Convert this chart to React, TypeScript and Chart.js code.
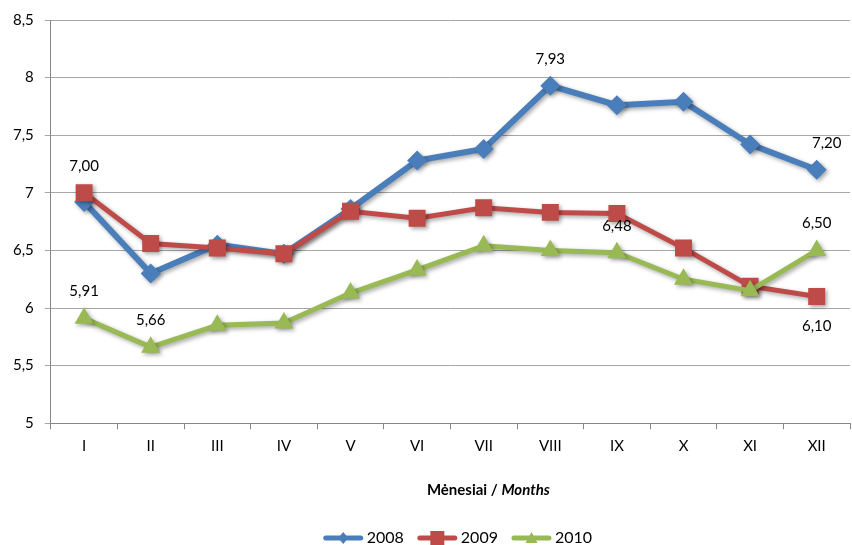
import React, { useEffect, useRef } from "react";
import { Chart, registerables } from "chart.js";

Chart.register(...registerables);

const months = ["I", "II", "III", "IV", "V", "VI", "VII", "VIII", "IX", "X", "XI", "XII"];
const series2008 = [6.92, 6.30, 6.55, 6.47, 6.86, 7.28, 7.38, 7.93, 7.76, 7.79, 7.42, 7.20];
const series2009 = [7.00, 6.56, 6.52, 6.47, 6.84, 6.78, 6.87, 6.83, 6.82, 6.52, 6.19, 6.10];
const series2010 = [5.91, 5.66, 5.85, 5.87, 6.13, 6.33, 6.54, 6.50, 6.48, 6.25, 6.15, 6.50];
const seriesNames = ["2008", "2009", "2010"];
const yTicks = [5, 5.5, 6, 6.5, 7, 7.5, 8, 8.5];
// value labels: [dataset index, point index, placement]
const valueLabels: [number, number, "above" | "below"][] = [
  [0, 7, "above"],
  [0, 11, "above"],
  [1, 0, "above"],
  [1, 11, "below"],
  [2, 0, "above"],
  [2, 1, "above"],
  [2, 8, "above"],
  [2, 11, "above"],
];

const COLORS = ["#4a7ebb", "#be4b48", "#98b954"];
const STYLES = ["rectRot", "rect", "triangle"];
const FONT = "Lato, 'Open Sans', sans-serif";

const fmt = (v: number, d = 0) => (d ? v.toFixed(d) : String(v)).replace(".", ",");

function drawMarker(ctx: CanvasRenderingContext2D, style: string, x: number, y: number) {
  ctx.beginPath();
  if (style === "rectRot") {
    ctx.moveTo(x, y - 6); ctx.lineTo(x + 5, y); ctx.lineTo(x, y + 6); ctx.lineTo(x - 5, y);
  } else if (style === "rect") {
    ctx.rect(x - 7, y - 7, 14, 14);
  } else {
    ctx.moveTo(x, y - 6); ctx.lineTo(x + 6, y + 5); ctx.lineTo(x - 6, y + 5);
  }
  ctx.closePath();
  ctx.fill();
}

const shadowPlugin = {
  id: "shadow",
  beforeDatasetDraw(chart: any) {
    const ctx = chart.ctx;
    ctx.save();
    ctx.shadowColor = "rgba(0,0,0,0.35)";
    ctx.shadowBlur = 4;
    ctx.shadowOffsetX = 2;
    ctx.shadowOffsetY = 2;
  },
  afterDatasetDraw(chart: any) {
    chart.ctx.restore();
  },
};

const textPlugin = {
  id: "texts",
  afterDatasetsDraw(chart: any) {
    const ctx = chart.ctx;
    ctx.save();
    ctx.fillStyle = "#000";
    ctx.font = `15px ${FONT}`;
    ctx.textAlign = "center";
    ctx.textBaseline = "middle";
    valueLabels.forEach(([di, pi, place]) => {
      const pt = chart.getDatasetMeta(di).data[pi];
      const v = chart.data.datasets[di].data[pi] as number;
      const dx = di === 0 && pi === 11 ? 10 : 0;
      const dy = place === "above" ? -27 : 30;
      ctx.fillText(fmt(v, 2), pt.x + dx, pt.y + dy);
    });
    // x axis title with mixed styles
    const a = chart.chartArea;
    const y = 490;
    const part1 = "Mėnesiai / ";
    const part2 = "Months";
    ctx.font = `bold 15px ${FONT}`;
    const w1 = ctx.measureText(part1).width;
    ctx.font = `bold italic 15px ${FONT}`;
    const w2 = ctx.measureText(part2).width;
    const cx = (a.left + a.right) / 2 + 38;
    const x0 = cx - (w1 + w2) / 2;
    ctx.textAlign = "left";
    ctx.font = `bold 15px ${FONT}`;
    ctx.fillText(part1, x0, y);
    ctx.font = `bold italic 15px ${FONT}`;
    ctx.fillText(part2, x0 + w1, y);

    // legend
    const ly = 538;
    const lineW = 41;
    const gapText = 3;
    const gapItem = 13;
    ctx.font = `16px ${FONT}`;
    const widths = seriesNames.map((n) => lineW + gapText + ctx.measureText(n).width);
    const total = widths.reduce((s, w) => s + w, 0) + gapItem * (seriesNames.length - 1);
    let lx = (a.left + a.right) / 2 + 7 - total / 2;
    seriesNames.forEach((n, i) => {
      ctx.strokeStyle = COLORS[i];
      ctx.fillStyle = COLORS[i];
      ctx.lineWidth = 5;
      ctx.lineCap = "round";
      ctx.beginPath();
      ctx.moveTo(lx + 3, ly);
      ctx.lineTo(lx + lineW - 3, ly);
      ctx.stroke();
      drawMarker(ctx, STYLES[i], lx + lineW / 2, ly);
      ctx.fillStyle = "#000";
      ctx.fillText(n, lx + lineW + gapText, ly);
      lx += widths[i] + gapItem;
    });
    ctx.restore();
  },
};

export default function App() {
  const ref = useRef<HTMLCanvasElement>(null);
  useEffect(() => {
    const all = [series2008, series2009, series2010];
    const chart = new Chart(ref.current!, {
      type: "line",
      data: {
        labels: months,
        datasets: all.map((d, i) => ({
          label: seriesNames[i],
          data: d,
          borderColor: COLORS[i],
          backgroundColor: COLORS[i],
          borderWidth: i === 0 ? 6 : 5,
          pointStyle: STYLES[i] as any,
          pointRadius: i === 0 ? 10 : i === 1 ? 12 : 11,
          pointBorderWidth: 0,
          tension: 0,
          order: 3 - i,
        })),
      },
      options: {
        animation: false,
        responsive: false,
        layout: { autoPadding: false, padding: { top: 18, right: 2, bottom: 35, left: 2 } },
        plugins: {
          tooltip: { enabled: false },
          legend: { display: false },
        },
        scales: {
          x: {
            offset: true,
            afterFit: (scale: any) => {
              scale.paddingLeft = 0;
              scale.paddingRight = 0;
            },
            grid: { drawOnChartArea: false, offset: true, color: "#868686", tickLength: 6 },
            border: { color: "#868686" },
            ticks: { font: { family: FONT, size: 15 }, color: "#000", padding: 8 },
            title: { display: true, text: " ", font: { size: 14 }, padding: { top: 22, bottom: 8 } },
          },
          y: {
            min: 5,
            max: 8.5,
            afterBuildTicks: (axis: any) => {
              axis.ticks = yTicks.map((v) => ({ value: v }));
            },
            grid: { color: "#a6a6a6", tickLength: 6 },
            border: { color: "#868686" },
            ticks: {
              font: { family: FONT, size: 15 },
              color: "#000",
              padding: 11,
              callback: (v: any) => fmt(Number(v)),
            },
          },
        },
      },
      plugins: [shadowPlugin, textPlugin],
    });
    return () => chart.destroy();
  }, []);
  return (
    <div style={{ position: "fixed", left: 0, top: 0, width: 852, height: 545, background: "#fff" }}>
      <canvas ref={ref} width={852} height={545} style={{ display: "block" }} />
    </div>
  );
}
